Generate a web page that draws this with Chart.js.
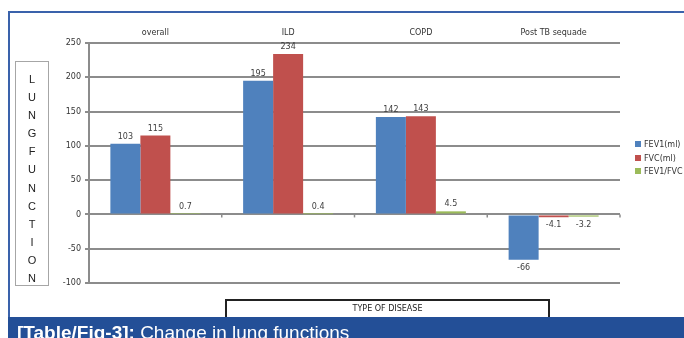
<!DOCTYPE html>
<html>
<head>
<meta charset="utf-8">
<script src="https://cdn.jsdelivr.net/npm/chart.js@4/dist/chart.umd.min.js"></script>
<style>
  body { margin: 0; width: 684px; height: 338px; overflow: hidden; position: relative; background: #fff; font-family: "DejaVu Sans", sans-serif; }
  #chart { position: absolute; left: 0; top: 0; }
  .frame-top { position: absolute; left: 8px; top: 11px; width: 676px; border-top: 2px solid #3a62ab; }
  .frame-left { position: absolute; left: 8px; top: 11px; height: 306px; border-left: 2px solid #3a62ab; }
  #ytitle { position: absolute; left: 15px; top: 61px; width: 32px; border: 1px solid #a6a6a6; box-sizing: content-box;
            font: 11px "Liberation Sans", sans-serif; color: #222; text-align: center; padding-top: 8px; height: 215px; }
  #ytitle div { line-height: 18.1px; height: 18.1px; }
  #xtitle { position: absolute; left: 225px; top: 299px; width: 321px; height: 30px; border: 2px solid #222;
            font: 8px "DejaVu Sans", sans-serif; color: #222; text-align: center; line-height: 16px; }
  #caption { position: absolute; left: 8px; top: 317px; width: 676px; height: 21px; background: #234f97; overflow: hidden; }
  #caption span.t { position: absolute; left: 9px; top: 6px; font: 19px/19px "Liberation Sans", Arial, sans-serif; color: #fff; white-space: nowrap; }
  #legend { position: absolute; left: 635px; top: 139px; font: 8px "DejaVu Sans", sans-serif; color: #333; }
  #legend .item { height: 13.5px; line-height: 11px; white-space: nowrap; }
  #legend .box { display: inline-block; width: 6px; height: 6px; margin-right: 3px; vertical-align: 0px; }
</style>
</head>
<body>
<canvas id="chart" width="684" height="338"></canvas>
<div class="frame-top"></div>
<div class="frame-left"></div>
<div id="ytitle"></div>
<div id="xtitle">TYPE OF DISEASE</div>
<div id="legend"></div>
<div id="caption"><span class="t"><b>[Table/Fig-3]:</b> Change in lung functions</span></div>
<script>
// Data
const categories = ['overall', 'ILD', 'COPD', 'Post TB sequade'];
const seriesNames = ['FEV1(ml)', 'FVC(ml)', 'FEV1/FVC'];
const fev1 = [103, 195, 142, -66];
const fvc = [115, 234, 143, -4.1];
const ratio = [0.7, 0.4, 4.5, -3.2];
const yTicks = [-100, -50, 0, 50, 100, 150, 200, 250];
const colors = ['#4f81bd', '#c0504d', '#9bbb59'];

// vertical axis title, one letter per line
const yTitle = 'LUNGFUNCTION';
document.getElementById('ytitle').innerHTML = yTitle.split('').map(c => '<div>' + c + '</div>').join('');

// legend
const legendEl = document.getElementById('legend');
seriesNames.forEach((name, i) => {
    legendEl.innerHTML += '<div class="item"><span class="box" style="background:' + colors[i] + '"></span>' + name + '</div>';
});

// value labels + small ticks on the zero line
const valueLabels = {
    id: 'valueLabels',
    afterDatasetsDraw(chart) {
        const ctx = chart.ctx;
        ctx.save();
        ctx.font = '8px "DejaVu Sans"';
        ctx.fillStyle = '#404040';
        ctx.textAlign = 'center';
        chart.data.datasets.forEach((ds, i) => {
            chart.getDatasetMeta(i).data.forEach((bar, j) => {
                const v = ds.data[j];
                if (v >= 0) {
                    ctx.textBaseline = 'bottom';
                    ctx.fillText(String(v), bar.x, bar.y - 3);
                } else {
                    ctx.textBaseline = 'top';
                    ctx.fillText(String(v), bar.x, bar.y + 4);
                }
            });
        });
        const xs = chart.scales.x;
        const y0 = chart.scales.y.getPixelForValue(0);
        const half = (xs.getPixelForValue(1) - xs.getPixelForValue(0)) / 2;
        ctx.strokeStyle = '#8c8c8c';
        ctx.lineWidth = 1.5;
        categories.forEach((c, i) => {
            const px = xs.getPixelForValue(i) + half;
            ctx.beginPath();
            ctx.moveTo(px, y0);
            ctx.lineTo(px, y0 + 3);
            ctx.stroke();
        });
        ctx.restore();
    }
};

new Chart(document.getElementById('chart'), {
    type: 'bar',
    data: {
        labels: categories,
        datasets: [
            { label: seriesNames[0], data: fev1, backgroundColor: colors[0] },
            { label: seriesNames[1], data: fvc, backgroundColor: colors[1] },
            { label: seriesNames[2], data: ratio, backgroundColor: colors[2] }
        ]
    },
    options: {
        responsive: false,
        devicePixelRatio: 1,
        animation: false,
        categoryPercentage: 0.678,
        barPercentage: 1,
        layout: { padding: { left: 0, right: 64, top: 0, bottom: 55 } },
        plugins: { legend: { display: false }, tooltip: { enabled: false } },
        scales: {
            x: {
                position: 'top',
                grid: { display: false, drawTicks: false },
                border: { display: false },
                ticks: { padding: 5, color: '#333', font: { family: 'DejaVu Sans', size: 8 } },
                afterFit(s) { s.height = 43; }
            },
            y: {
                min: -100,
                max: 250,
                afterBuildTicks(s) { s.ticks = yTicks.map(v => ({ value: v })); },
                grid: { color: '#8c8c8c', lineWidth: 2, tickLength: 4 },
                border: { color: '#8c8c8c', width: 2 },
                ticks: { padding: 4, color: '#333', font: { family: 'DejaVu Sans', size: 8 } },
                afterFit(s) { s.width = 89; }
            }
        }
    },
    plugins: [valueLabels]
});
</script>
</body>
</html>
